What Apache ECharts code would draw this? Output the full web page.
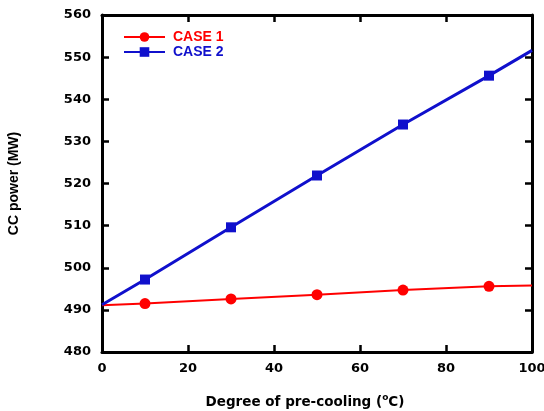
<!DOCTYPE html>
<html><head><meta charset="utf-8">
<script src="https://cdn.jsdelivr.net/npm/echarts@6/dist/echarts.min.js"></script>
<style>html,body{margin:0;padding:0;background:#fff}#c{width:544px;height:411px}</style>
</head><body><div id="c"></div>
<script>
const xValues = [0, 10, 30, 50, 70, 90, 100];
const case1 = [491.1, 491.5, 492.6, 493.6, 494.7, 495.6, 495.8];
const case2 = [491.2, 497.2, 509.6, 521.9, 534.0, 545.6, 551.6];
const markerShown = [false, true, true, true, true, true, false];
const seriesNames = ['CASE 1', 'CASE 2'];
const xTitle = 'Degree of pre-cooling (';
const yTitle = 'CC power (MW)';

const wide = '"DejaVu Sans", sans-serif';
const font = '"Liberation Sans", Arial, sans-serif';
function build(vals){
  return xValues.map((x,i)=>{
    const d = {value:[x, vals[i]]};
    if(!markerShown[i]) d.symbol = 'none';
    return d;
  });
}
const chart = echarts.init(document.getElementById('c'));
const axisCommon = {
  axisLine:{show:true, onZero:false, lineStyle:{color:'#000', width:3}},
  axisTick:{show:true, inside:true, length:7, lineStyle:{color:'#000', width:2.5}},
  splitLine:{show:false}
};
chart.setOption({
  animation:false,
  grid:{left:102, right:12, top:15, bottom:59, containLabel:false, outerBoundsMode:'none'},
  legend:{
    orient:'vertical', left:123, top:30, padding:0, itemWidth:41, itemHeight:12, itemGap:1,
    textStyle:{fontFamily:font, fontWeight:'bold', fontSize:14, lineHeight:14, padding:[0,0,0,3]},
    data:[
      {name:seriesNames[0], textStyle:{color:'#ff0000'}},
      {name:seriesNames[1], textStyle:{color:'#1010cc'}}
    ]
  },
  xAxis:[
    Object.assign({type:'value', min:0, max:100, interval:20, position:'bottom',
      name:xTitle+'{sup|o}C)', nameLocation:'middle', nameGap:41,
      nameTextStyle:{fontFamily:wide, fontWeight:'bold', fontSize:13.5, color:'#000', padding:[0,24,0,0],
        rich:{sup:{fontFamily:wide, fontWeight:'bold', fontSize:9, verticalAlign:'top', padding:[0,0,10,0], color:'#000'}}},
      axisLabel:{fontFamily:wide, fontWeight:'bold', fontSize:13, color:'#000', margin:10}}, axisCommon),
    Object.assign({type:'value', min:0, max:100, interval:20, position:'top',
      axisLabel:{show:false}}, axisCommon)
  ],
  yAxis:[
    Object.assign({type:'value', min:480, max:560, interval:10, position:'left',
      name:yTitle, nameLocation:'middle', nameGap:81, nameRotate:90,
      nameTextStyle:{fontFamily:font, fontWeight:'bold', fontSize:14, color:'#000'},
      axisLabel:{fontFamily:wide, fontWeight:'bold', fontSize:13, color:'#000', margin:11}}, axisCommon),
    Object.assign({type:'value', min:480, max:560, interval:10, position:'right',
      axisLabel:{show:false}}, axisCommon)
  ],
  series:[
    {name:seriesNames[0], type:'line', data:build(case1), symbol:'circle', symbolSize:11,
      lineStyle:{color:'#ff0000', width:2}, itemStyle:{color:'#ff0000'}},
    {name:seriesNames[1], type:'line', data:build(case2), symbol:'rect', symbolSize:10,
      lineStyle:{color:'#1010cc', width:3}, itemStyle:{color:'#1010cc'}}
  ]
});
</script></body></html>
